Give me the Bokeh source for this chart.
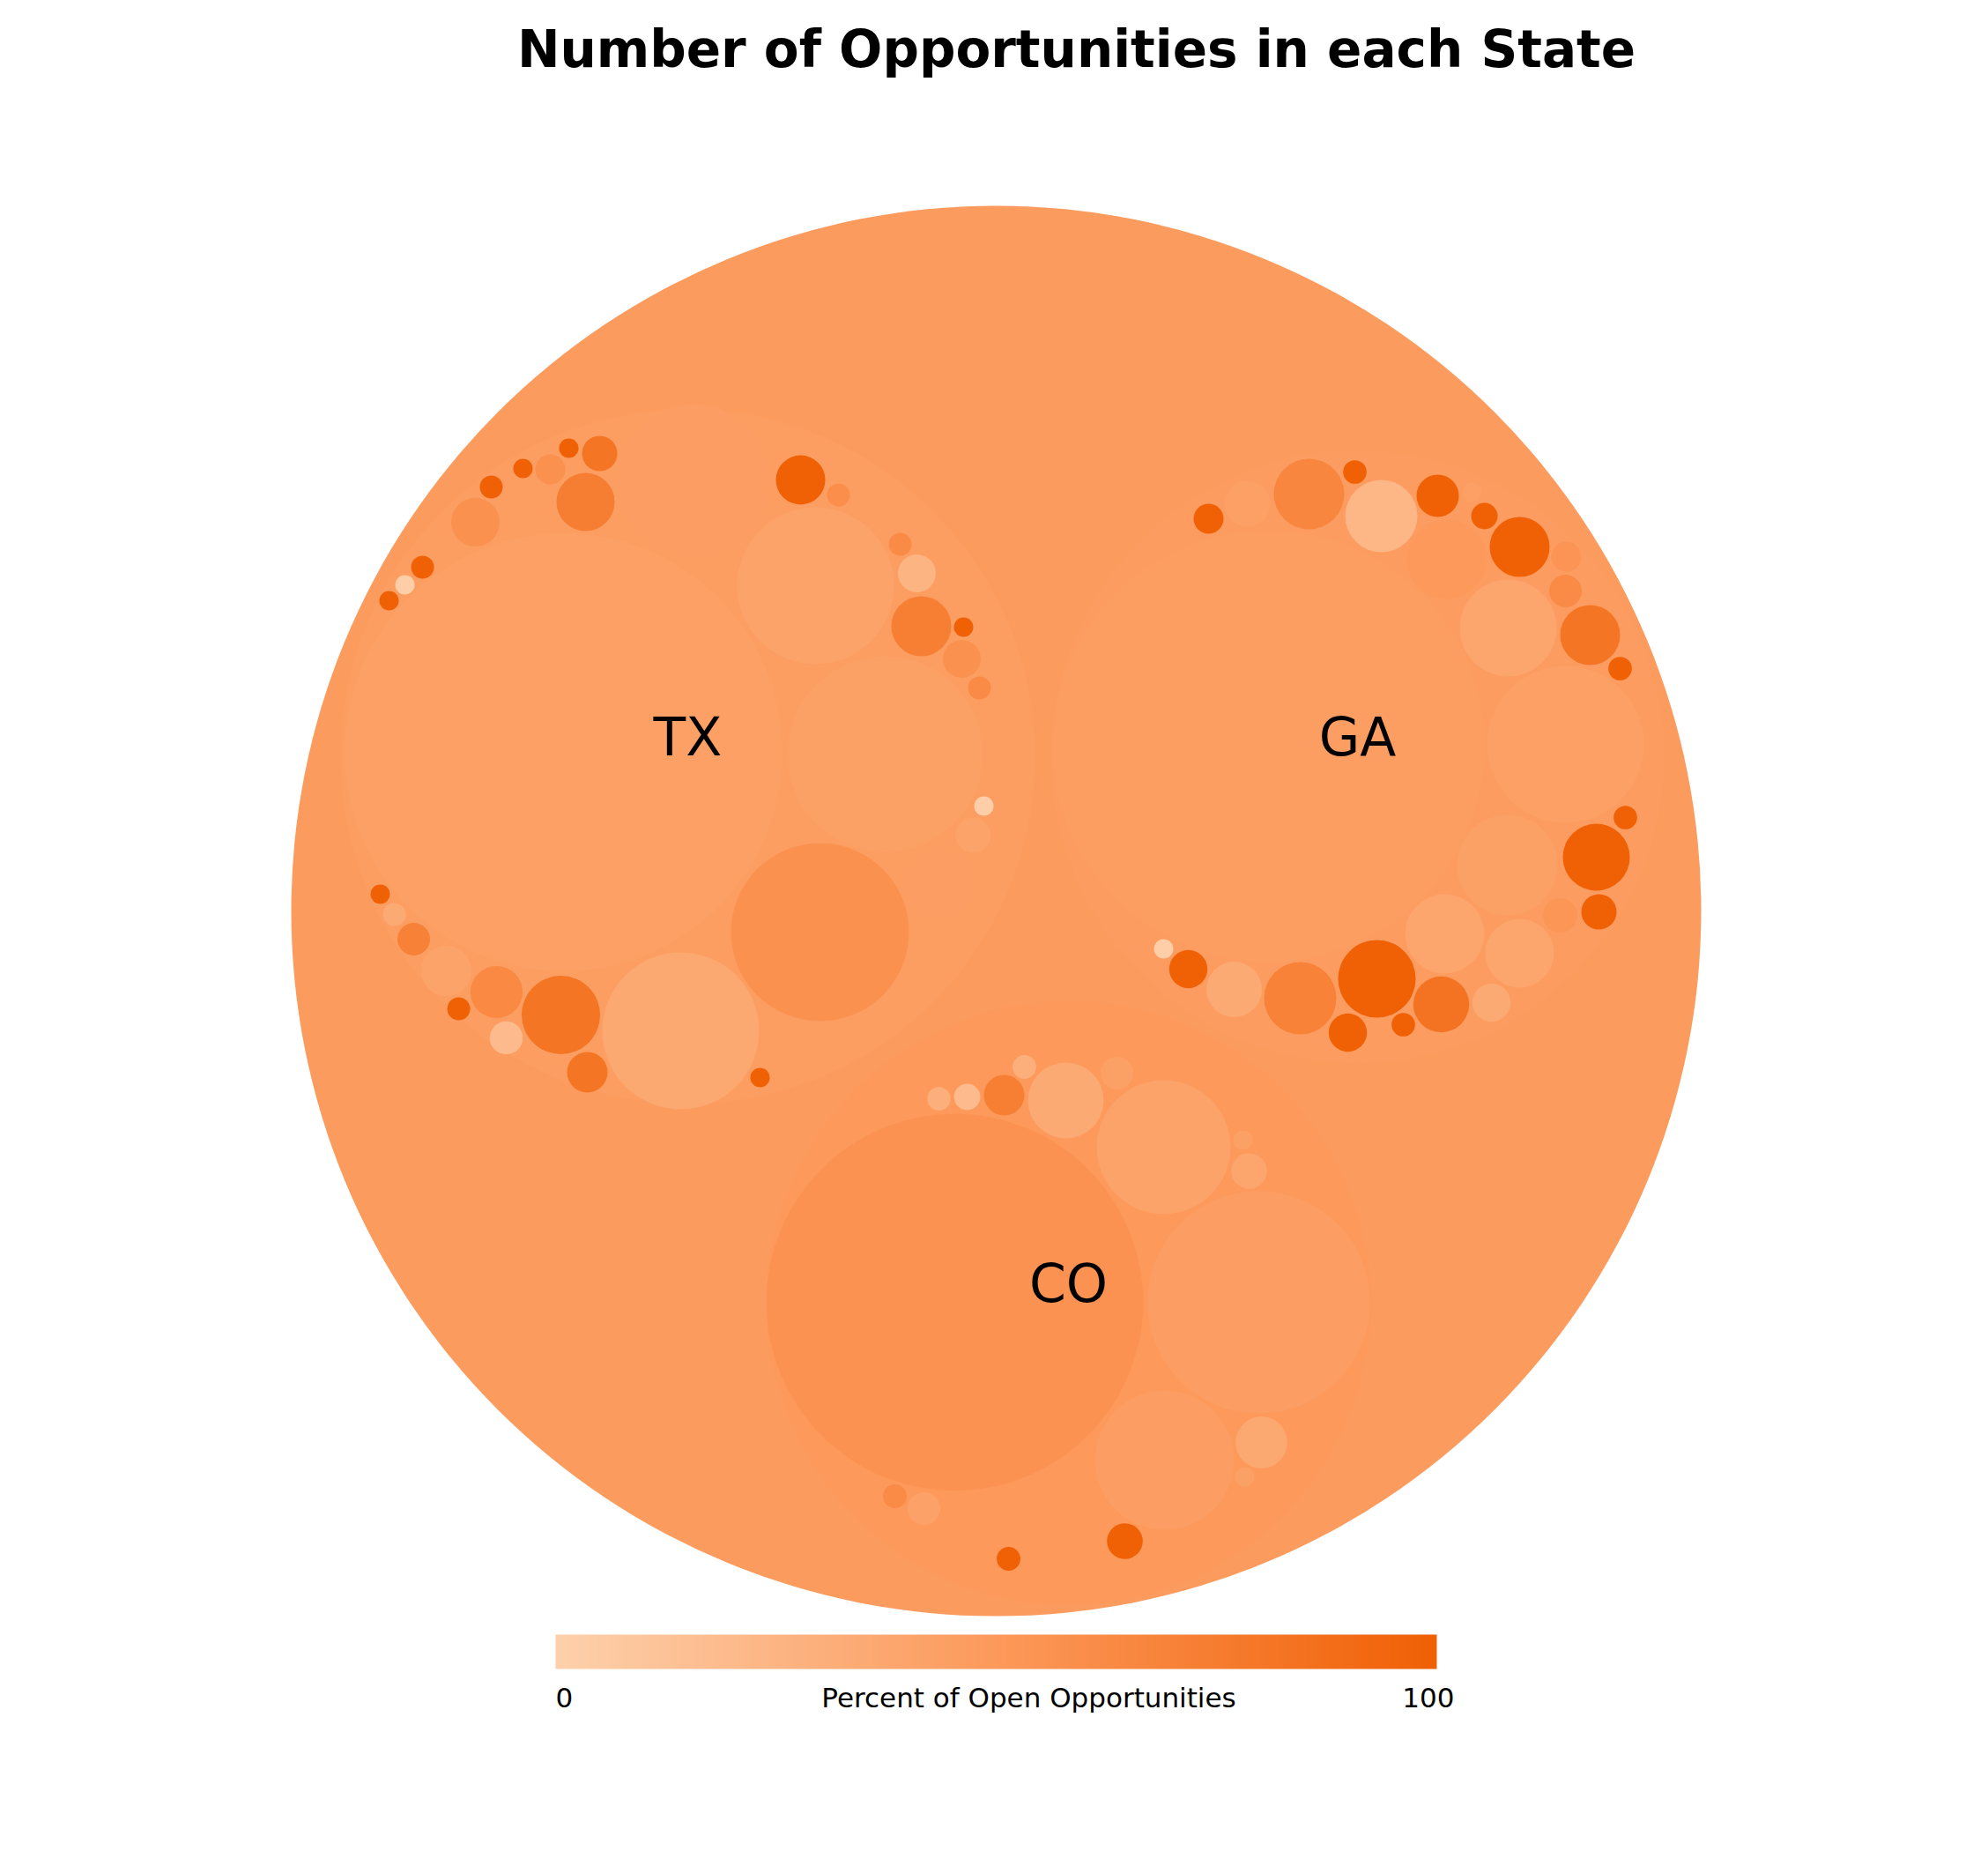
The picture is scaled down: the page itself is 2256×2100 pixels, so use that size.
import numpy as np
from bokeh.plotting import figure
from bokeh.models import Range1d, ColumnDataSource, LinearColorMapper
from bokeh.core.properties import value
from bokeh.embed import file_html
from bokeh.resources import INLINE

# ---------------- data (pack layout units, root centred at 0,0) ----------------
title = "Number of Opportunities in each State"
legend_title = "Percent of Open Opportunities"
pct_low, pct_high = 0, 100

root_x, root_y, root_r, root_pct = 0, 0, 800, 48

states = ["TX", "GA", "CO"]
state_x = [-350, 410, 82]
state_y = [175, 175, -445]
state_r = [394, 348, 343]
state_pct = [46, 47, 50]

tx_x = [-689, -671, -651, -591, -573, -537, -506, -485, -450, -466, -343, -222, -179, -205,
        -109, -90, -85, -37, -39, -19, -491, -699, -683, -661, -624, -567, -610, -556, -494,
        -464, -358, -268, -200, -126, -14, -26, -66]
tx_y = [352, 370, 390, 441, 481, 502, 501, 525, 519, 464, 487, 489, 472, 369,
        416, 383, 323, 322, 286, 253, 180, 19, -4, -32, -68, -92, -111, -144, -118,
        -183, -136, -189, -24, 178, 119, 86, 33]
tx_r = [11, 11, 13, 27.5, 13, 11, 17, 11, 20, 33, 88, 28, 13, 89,
        13, 21.5, 34, 11, 21.5, 13, 248.5, 11, 13, 18.5, 28.7, 29.6, 13, 18.8, 44.5,
        23, 89, 11, 101, 111, 11, 20, 41.8]
tx_pct = [100, 2, 100, 57, 100, 100, 57, 100, 82, 74, 45, 100, 60, 41,
          62, 25, 73, 100, 57, 62, 44, 100, 35, 71, 41, 64, 100, 19, 82,
          82, 36, 100, 57, 43, 2, 41, 45]

ga_x = [241, 285, 355, 407, 437, 501, 540, 554, 594, 511, 647, 646, 581, 674, 708, 646, 309,
        714, 681, 580, 684, 640, 509, 594, 190, 218, 270, 345, 432, 399, 462, 505, 562]
ga_y = [445, 462, 473, 498, 448, 471, 475, 448, 413, 399, 402, 363, 321, 313, 275, 189, 187,
        106, 61, 52, -1, -5, -26, -48, -43, -66, -89, -99, -77, -138, -129, -106, -104]
ga_r = [17, 26, 40, 13.3, 41, 24, 11, 15, 34, 45, 17, 18.5, 55, 34, 13.3, 89, 245,
        13.3, 38, 57, 20, 19.5, 45, 39, 11, 21.7, 31.5, 41, 44, 21.7, 13.3, 31.7, 21.7]
ga_pct = [100, 44, 67, 100, 24, 100, 44, 100, 100, 50, 54, 62, 38, 82, 100, 44, 46,
          100, 100, 43, 100, 53, 39, 39, 2, 100, 35, 70, 100, 100, 100, 83, 35]

co_x = [-65, -33, 9, 32, 79, 137, 190, 280, 287, -47, 298, 191, 301, 282, 146, 14, -26, -82, -115]
co_y = [-213, -211, -209, -177, -215, -184, -268, -260, -295, -444, -444, -623, -603, -642,
        -715, -735, -698, -678, -664]
co_r = [13.3, 15, 23, 13.4, 43, 18.6, 76, 11, 20.3, 213.7, 126.3, 79, 29.4, 11, 20.3, 13.4,
        36.7, 18.6, 13.4]
co_pct = [30, 19, 73, 30, 35, 43, 41, 43, 38, 56, 45, 45, 36, 43, 100, 100, 50, 42, 62]

# ---------------- colour scale ----------------
stops_t = [0.0, 0.5, 1.0]
stops_rgb = [(253, 208, 171), (252, 153, 91), (240, 96, 5)]
palette = []
for t in np.linspace(0, 1, 256):
    rgb = [int(round(np.interp(t, stops_t, [s[k] for s in stops_rgb]))) for k in range(3)]
    palette.append("#%02x%02x%02x" % tuple(rgb))
mapper = LinearColorMapper(palette=palette, low=pct_low, high=pct_high)

# ---------------- figure ----------------
W, H = 2240, 2084
p = figure(width=W, height=H, output_backend="svg", toolbar_location=None,
           x_range=Range1d(-1130, 1110), y_range=Range1d(-1051, 1033),
           x_axis_location=None, y_axis_location=None, min_border=0,
           outline_line_color=None, background_fill_color="white",
           border_fill_color="white")
p.grid.visible = False

nodes = ColumnDataSource(dict(
    x=[root_x] + state_x + tx_x + ga_x + co_x,
    y=[root_y] + state_y + tx_y + ga_y + co_y,
    r=[root_r] + state_r + tx_r + ga_r + co_r,
    pct=[root_pct] + state_pct + tx_pct + ga_pct + co_pct,
))
p.circle(x="x", y="y", radius="r", source=nodes,
         fill_color={"field": "pct", "transform": mapper}, line_color=None)

# state labels (baseline at node centre; +25 compensates renderer baseline shift)
label_y = [yy + 23 for yy in state_y]
p.text(x=state_x, y=label_y, text=states, text_font=value("DejaVu Sans"),
       text_font_size="60px", text_align="center", text_baseline="alphabetic",
       text_color="black")

# title
p.text(x=[91], y=[978], text=[title], text_font=value("DejaVu Sans"),
       text_font_size="58px", text_font_style="bold", text_align="center",
       text_baseline="alphabetic", text_color="black")

# colour legend
grad = np.linspace(pct_low, pct_high, 600).reshape(1, -1)
p.image(image=[grad], x=-500, y=-860, dw=1000, dh=39, color_mapper=mapper)
p.text(x=[-500], y=[-892], text=[str(pct_low)], text_font=value("DejaVu Sans"),
       text_font_size="31px", text_align="left", text_baseline="alphabetic")
p.text(x=[520], y=[-892], text=[str(pct_high)], text_font=value("DejaVu Sans"),
       text_font_size="31px", text_align="right", text_baseline="alphabetic")
p.text(x=[37], y=[-892], text=[legend_title], text_font=value("DejaVu Sans"),
       text_font_size="31px", text_align="center", text_baseline="alphabetic")

open("out.html", "w").write(file_html(p, INLINE))
